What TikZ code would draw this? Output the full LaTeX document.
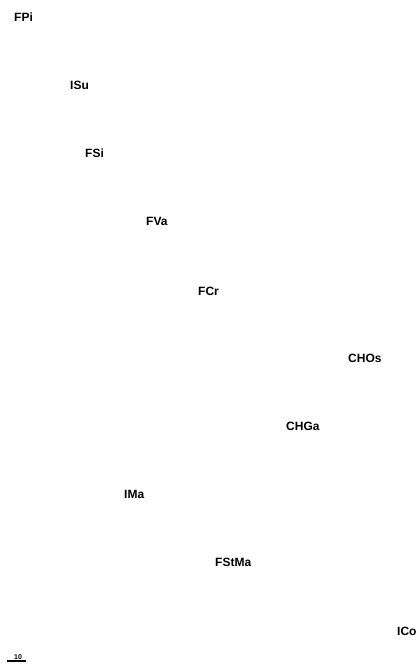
\documentclass[tikz,border=0pt]{standalone}
\usepackage{fontspec}
\setmainfont{Liberation Sans}
\usetikzlibrary{positioning}
\usetikzlibrary{calc}
\tikzset{
  taxon/.style={font=\bfseries\fontsize{12}{13}\selectfont, inner sep=0pt, anchor=west},
  scalebar/.style={line width=1.2pt},
}

\begin{document}
\begin{tikzpicture}[x=1pt,y=-1pt]
      \useasboundingbox (0,0) rectangle (419,666);

      \node[taxon] (fpi) at (14,17) {FPi};
      \node[taxon] (isu) at (70,85) {ISu};
      \node[taxon] (fsi) at (85,153) {FSi};
      \node[taxon] (fva) at (146,221) {FVa};
      \node[taxon] (fcr) at (198,291) {FCr};
      \node[taxon] (chos) at (348,358) {CHOs};
      \node[taxon] (chga) at (286,426) {CHGa};
      \node[taxon] (ima) at (124,494) {IMa};
      \node[taxon] (fstma) at (215,562) {FStMa};
      \node[taxon] (ico) at (397,631) {ICo};

      % scale
      \coordinate (s0) at (7,661);
      \coordinate (s1) at (26,661);
      \draw[scalebar] (s0) -- (s1);
      \node[font=\bfseries\fontsize{7}{8}\selectfont, inner sep=0pt, above=1.5pt of $(s0)!0.58!(s1)$] (scale) {10};
    \end{tikzpicture}
\end{document}
